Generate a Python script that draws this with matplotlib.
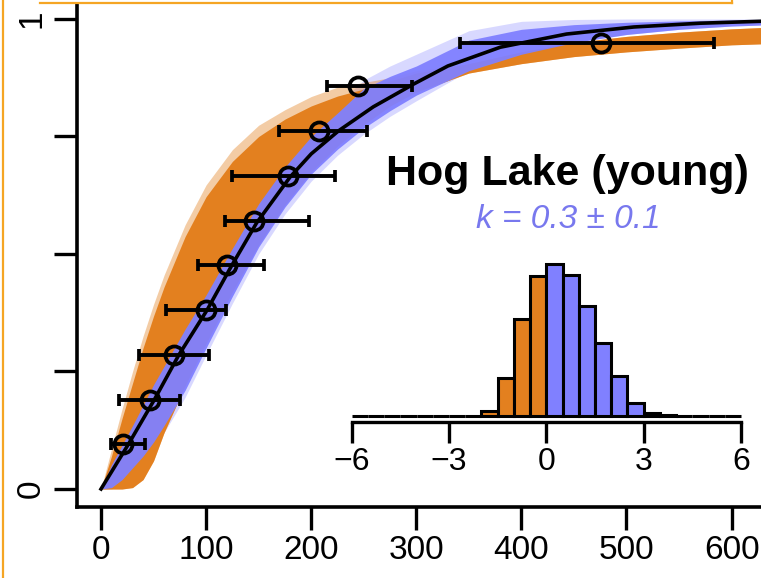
import matplotlib.pyplot as plt
from matplotlib.lines import Line2D

plt.rcParams["font.family"] = ["Liberation Sans", "DejaVu Sans"]

ORANGE = "#e3801f"
BLUE = "#8080ff"
TEXT_BLUE = "#7878ee"
FRAME = "#f5a524"

# ---- observations (circles + horizontal error bars) ----
obs_x = [21.2, 46.6, 69.5, 99.9, 120.2, 145.9, 178.2, 207.4, 244.2, 475.7]
obs_y = [0.095, 0.19, 0.286, 0.381, 0.476, 0.571, 0.667, 0.762, 0.857, 0.948]
obs_lo = [9.2, 17.4, 36.4, 61.6, 92.6, 118.0, 124.9, 169.6, 214.7, 341.6]
obs_hi = [41.9, 75.2, 103.0, 118.9, 155.4, 198.2, 222.6, 252.8, 295.6, 583.3]

# ---- best fit curve ----
fit_x = [0, 26, 51, 74, 101, 124, 148, 180, 200, 226, 259, 297, 330, 380,
         443, 507, 570, 640]
fit_y = [0, 0.095, 0.191, 0.285, 0.381, 0.474, 0.566, 0.664, 0.713, 0.762,
         0.813, 0.861, 0.900, 0.940, 0.968, 0.983, 0.991, 0.996]

# ---- posterior envelopes (orange: k < 0, blue: k > 0) ----
band_x = [0, 10, 20, 30, 40, 50, 60, 80, 100, 125, 150, 175, 200, 225, 250,
          275, 300, 350, 400, 450, 500, 550, 600, 640]
orange_lo = [0, 0, 0, 0.003, 0.02, 0.06, 0.12, 0.22, 0.31, 0.42, 0.52, 0.605,
             0.675, 0.73, 0.775, 0.815, 0.845, 0.885, 0.905, 0.92, 0.93, 0.938,
             0.945, 0.948]
orange_hi = [0, 0.07, 0.15, 0.225, 0.30, 0.368, 0.43, 0.537, 0.622, 0.697,
             0.75, 0.787, 0.815, 0.836, 0.851, 0.868, 0.885, 0.905, 0.93, 0.95,
             0.963, 0.972, 0.979, 0.983]
orange_fringe = [0, 0.085, 0.17, 0.25, 0.325, 0.393, 0.455, 0.562, 0.647, 0.722,
                 0.774, 0.807, 0.835, 0.855, 0.865, 0.875, 0.89, 0.905, 0.93,
                 0.95, 0.963, 0.972, 0.979, 0.983]
blue_lo = [0, 0.003, 0.02, 0.045, 0.07, 0.10, 0.135, 0.21, 0.30, 0.41, 0.515,
           0.60, 0.67, 0.723, 0.768, 0.805, 0.838, 0.89, 0.925, 0.95, 0.967,
           0.978, 0.985, 0.988]
blue_hi = [0, 0.052, 0.093, 0.135, 0.178, 0.222, 0.261, 0.34, 0.413, 0.512,
           0.607, 0.685, 0.75, 0.80, 0.852, 0.878, 0.90, 0.955, 0.978, 0.988,
           0.993, 0.996, 0.998, 0.999]
blue_fringe_lo = [0, 0, 0.01, 0.03, 0.055, 0.085, 0.12, 0.195, 0.285, 0.395,
                  0.50, 0.585, 0.655, 0.71, 0.755, 0.793, 0.826, 0.89, 0.925,
                  0.95, 0.967, 0.978, 0.985, 0.988]
blue_fringe_hi = [0, 0.055, 0.1, 0.14, 0.185, 0.23, 0.27, 0.35, 0.425, 0.525,
                  0.62, 0.70, 0.77, 0.82, 0.87, 0.90, 0.925, 0.975, 0.995,
                  0.999, 1.0, 1.0, 1.0, 1.0]

# ---- histogram of k ----
k_edges = [-6 + 0.5 * i for i in range(25)]
k_counts = [0, 0, 0, 0, 0, 0, 0, 0, 5, 38, 97, 140, 152, 141, 110, 73, 40, 13,
            3, 1, 0, 0, 0, 0]

W, H = 761, 578
fig = plt.figure(figsize=(W / 100, H / 100), dpi=100)

# main panel: left spine at px 77, bottom spine at px 507
ax = fig.add_axes([77 / W, (H - 507) / H, 700 / W, 503 / H])
ax.set_xlim(-22.84, 643.2)
ax.set_ylim(-0.0383, 1.0319)

ax.fill_between(band_x, blue_fringe_lo, blue_fringe_hi, color=BLUE, alpha=0.3, lw=0)
ax.fill_between(band_x, orange_lo, orange_fringe, color=ORANGE, alpha=0.4, lw=0)
ax.fill_between(band_x, orange_lo, orange_hi, color=ORANGE, lw=0)
ax.fill_between(band_x, blue_lo, blue_hi, color=BLUE, lw=0, alpha=0.95)
ax.plot(fit_x, fit_y, color="black", lw=2.6)

xerr = [[x - lo for x, lo in zip(obs_x, obs_lo)],
        [hi - x for x, hi in zip(obs_x, obs_hi)]]
ax.errorbar(obs_x, obs_y, xerr=xerr, fmt="o", ms=13, mfc="none", mec="black",
            mew=2.7, color="black", elinewidth=2.8, capsize=4.5, capthick=2.8,
            zorder=5)

for side in ("top", "right"):
    ax.spines[side].set_visible(False)
for side in ("left", "bottom"):
    ax.spines[side].set_linewidth(2.6)
ax.set_xticks([0, 100, 200, 300, 400, 500, 600])
ax.set_yticks([0, 0.25, 0.5, 0.75, 1])
ax.set_yticklabels(["0", "", "", "", "1"], rotation=90, va="center")
ax.tick_params(axis="both", direction="out", length=16.5, width=2.4,
               labelsize=24)
ax.tick_params(axis="x", pad=4)
ax.tick_params(axis="y", pad=5)

# titles
fig.text(567 / W, 1 - 185 / H, "Hog Lake (young)", ha="center", va="baseline",
         fontsize=31, fontweight="bold")
fig.text(568 / W, 1 - 228 / H, "k = 0.3 \u00b1 0.1", ha="center", va="baseline",
         fontsize=24, fontstyle="italic", color=TEXT_BLUE)

# inset histogram: -6 at px 351.7, 6 at px 741, baseline at px 416
ins = fig.add_axes([351.7 / W, (H - 416) / H, (741 - 351.7) / W, 152 / H])
ins.set_xlim(-6, 6)
ins.set_ylim(0, 152)
ins.patch.set_alpha(0)
lefts = k_edges[:-1]
colors = [ORANGE if e < 0 else BLUE for e in lefts]
ins.bar(lefts, k_counts, width=0.5, align="edge", color=colors,
        edgecolor="black", linewidth=2.2, clip_on=False)
for side in ("top", "right", "left"):
    ins.spines[side].set_visible(False)
ins.spines["bottom"].set_position(("outward", 4.3))
ins.spines["bottom"].set_bounds(-6, 6)
ins.spines["bottom"].set_linewidth(2.4)
ins.set_yticks([])
ins.set_xticks([-6, -3, 0, 3, 6])
ins.set_xticklabels(["\u22126", "\u22123", "0", "3", "6"])
ins.tick_params(axis="x", direction="out", length=15, width=2.4,
                labelsize=23, pad=3)

# orange frame fragments around the figure
fig.add_artist(Line2D([2.5 / W, 2.5 / W], [0, 1], color=FRAME, lw=1.6))
fig.add_artist(Line2D([40 / W, 732 / W], [1 - 3 / H, 1 - 3 / H], color=FRAME, lw=1.6))
fig.add_artist(Line2D([732 / W, 732 / W], [1 - 3 / H, 1], color=FRAME, lw=1.6))

fig.savefig("out.png", dpi=100)
